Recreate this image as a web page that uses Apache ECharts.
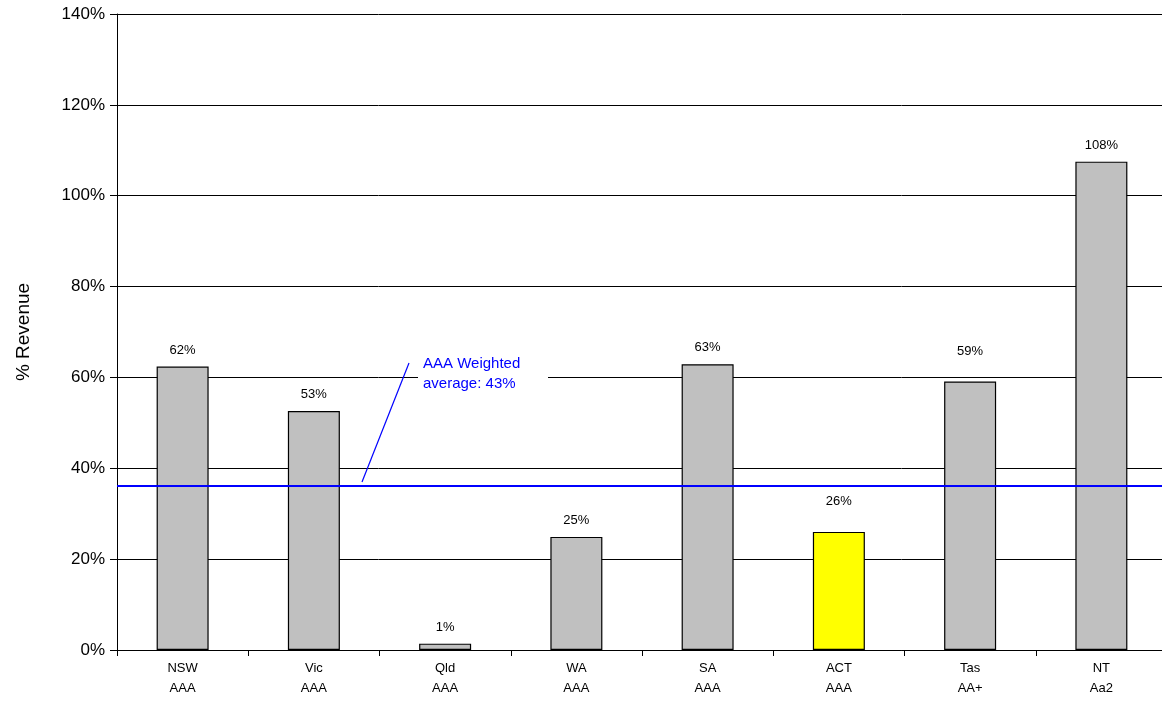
<!DOCTYPE html>
<html>
<head>
<meta charset="utf-8">
<script src="https://cdn.jsdelivr.net/npm/echarts@6/dist/echarts.min.js"></script>
<style>
  html, body { margin: 0; padding: 0; background: #fff; overflow: hidden; }
  #chart { width: 1162px; height: 702px; }
</style>
</head>
<body>
<div id="chart"></div>
<script>
var states = ['NSW', 'Vic', 'Qld', 'WA', 'SA', 'ACT', 'Tas', 'NT'];
var ratings = ['AAA', 'AAA', 'AAA', 'AAA', 'AAA', 'AAA', 'AA+', 'Aa2'];
var debtPct = [62.4, 52.6, 1.4, 24.9, 62.9, 26.0, 59.1, 107.5];
var labelText = ['62%', '53%', '1%', '25%', '63%', '26%', '59%', '108%'];
var highlight = 'ACT';
var weightedAvgLine = 36.1;
var avgLabel = 'AAA Weighted\naverage: 43%';

var chart = echarts.init(document.getElementById('chart'));

var barData = states.map(function (s, i) {
    var item = {
        value: debtPct[i],
        itemStyle: { color: s === highlight ? '#ffff00' : '#c0c0c0' },
        label: { formatter: labelText[i] }
    };
    // these two labels sit higher in the original
    if (s === 'ACT' || s === 'Tas') item.label.distance = 24;
    return item;
});

chart.setOption({
    animation: false,
    grid: { left: 117, right: -5, top: 14, bottom: 52, outerBoundsMode: 'none', containLabel: false },
    xAxis: {
        type: 'category',
        data: states.map(function (s, i) { return s + '\n' + ratings[i]; }),
        axisLine: { lineStyle: { color: '#000' } },
        axisTick: { show: true, length: 6, lineStyle: { color: '#000' } },
        axisLabel: { color: '#000', fontFamily: 'Liberation Sans', fontSize: 13, lineHeight: 20, margin: 8 }
    },
    yAxis: {
        type: 'value',
        min: 0, max: 140, interval: 20,
        name: '% Revenue',
        nameLocation: 'middle',
        nameGap: 84,
        nameTextStyle: { color: '#000', fontFamily: 'Liberation Sans', fontSize: 19 },
        axisLine: { show: true, lineStyle: { color: '#000' } },
        axisTick: { show: true, inside: false, length: 7, lineStyle: { color: '#000' } },
        axisLabel: { color: '#000', fontFamily: 'Liberation Sans', fontSize: 17, margin: 12, formatter: '{value}%' },
        splitLine: { lineStyle: { color: '#000', width: 1 } }
    },
    series: [{
        type: 'bar',
        data: barData,
        barWidth: 52,
        itemStyle: { borderColor: '#000', borderWidth: 1.2 },
        label: {
            show: true, position: 'top', distance: 10,
            color: '#000', fontFamily: 'Liberation Sans', fontSize: 13
        },
        markLine: {
            silent: true,
            symbol: 'none',
            label: { show: false },
            lineStyle: { color: '#0000ff', width: 2, type: 'solid' },
            data: [{ yAxis: weightedAvgLine }]
        },
        z: 2
    }],
    graphic: [
        {
            type: 'rect',
            shape: { x: 418, y: 353, width: 130, height: 42 },
            style: { fill: '#fff' },
            z: 50
        },
        {
            type: 'text',
            left: 423, top: 354,
            style: {
                text: avgLabel,
                fill: '#0000ff',
                font: '15px "Liberation Sans"',
                lineHeight: 20
            },
            z: 51
        },
        {
            type: 'line',
            shape: { x1: 409, y1: 363, x2: 362, y2: 482 },
            style: { stroke: '#0000ff', lineWidth: 1.2 },
            z: 51
        }
    ]
});
</script>
</body>
</html>
